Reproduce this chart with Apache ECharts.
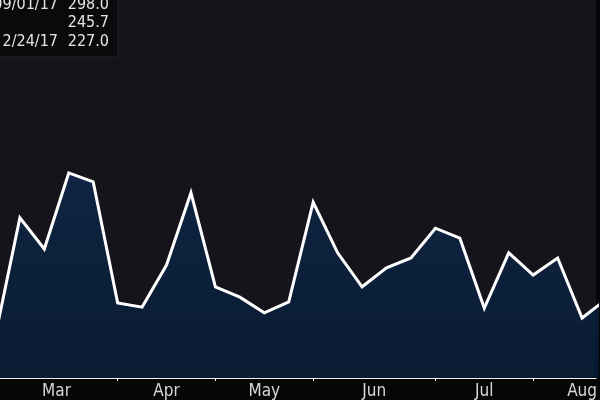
<!DOCTYPE html>
<html>
<head>
<meta charset="utf-8">
<script src="https://cdn.jsdelivr.net/npm/echarts@6/dist/echarts.min.js"></script>
<style>html,body{margin:0;padding:0;background:#060606;}#c{width:600px;height:400px;}</style>
</head>
<body>
<div id="c"></div>
<script>
// weekly dates (Fridays)
const dates = ['2017-02-24','2017-03-03','2017-03-10','2017-03-17','2017-03-24','2017-03-31',
  '2017-04-07','2017-04-14','2017-04-21','2017-04-28','2017-05-05','2017-05-12','2017-05-19',
  '2017-05-26','2017-06-02','2017-06-09','2017-06-16','2017-06-23','2017-06-30','2017-07-07',
  '2017-07-14','2017-07-21','2017-07-28','2017-08-04','2017-08-11','2017-08-18'];
const values = [227.0, 251.9, 245.3, 261.4, 259.5, 233.9, 233.0, 241.9, 257.2, 237.3, 235.1,
  231.8, 234.1, 255.2, 244.5, 237.3, 241.3, 243.4, 249.7, 247.6, 232.8, 244.5, 239.8, 243.4,
  230.7, 234.7];
// month labels (centered in month spans, in week-index units) and month boundary ticks
const monthNames = ['Mar','Apr','May','Jun','Jul','Aug'];
const monthLabelPos = [2.5, 7, 11, 15.5, 20, 24];
const monthTickPos = [5, 9, 13, 18, 22];
// legend box rows: date, value (high, average, low)
const legendDates = ['09/01/17', '', '2/24/17'];
const legendValues = ['298.0', '245.7', '227.0'];

const chart = echarts.init(document.getElementById('c'), null, {renderer: 'canvas'});
const seriesData = values.map((v, i) => [i, v]);
const FONT = '"Liberation Sans Narrow", "DejaVu Sans Condensed", sans-serif';

const legendTexts = [];
legendDates.forEach((d, i) => {
  const y = 5 + i * 18.2;
  if (d) legendTexts.push({type: 'text', x: 0, y: 0, style: {text: d, x: 58, y: y, align: 'right', verticalAlign: 'middle', fill: '#e4e4e4', font: '16px ' + FONT}});
  legendTexts.push({type: 'text', x: 0, y: 0, style: {text: legendValues[i], x: 109, y: y, align: 'right', verticalAlign: 'middle', fill: '#e4e4e4', font: '16px ' + FONT}});
});

chart.setOption({
  backgroundColor: '#060606',
  animation: false,
  grid: {left: 0, right: 0, top: 0, bottom: 21, show: true, backgroundColor: '#15141a', borderWidth: 0},
  xAxis: {
    type: 'value', min: 4.6 / 24.6, max: 4.6 / 24.6 + 600 / 24.6,
    splitLine: {show: false},
    axisLine: {show: true, onZero: false, lineStyle: {color: '#f0f0f0', width: 1}},
    axisTick: {show: true, length: 3, inside: false, customValues: monthTickPos, lineStyle: {color: '#f0f0f0'}},
    axisLabel: {
      customValues: monthLabelPos, color: '#d8d8d8', fontSize: 17, fontFamily: FONT, margin: 5,
      formatter: v => { const k = monthLabelPos.indexOf(v); return k >= 0 ? monthNames[k] : ''; }
    }
  },
  yAxis: {type: 'value', min: 218, max: 298, show: false, splitLine: {show: false}},
  series: [{
    type: 'line', data: seriesData, showSymbol: false, symbol: 'none', clip: true,
    lineStyle: {color: '#ffffff', width: 3, join: 'miter'},
    areaStyle: {color: new echarts.graphic.LinearGradient(0, 0, 0, 1, [
      {offset: 0, color: '#0c2c54'}, {offset: 1, color: '#051e3c'}])},
    z: 3
  }],
  graphic: [{
    type: 'group', x: 0, y: 0,
    children: [{type: 'rect', shape: {x: -4, y: -4, width: 122, height: 61, r: 2}, style: {fill: '#0a0a0d', stroke: '#222226', lineWidth: 1}}].concat(legendTexts)
  }]
});
</script>
</body>
</html>
